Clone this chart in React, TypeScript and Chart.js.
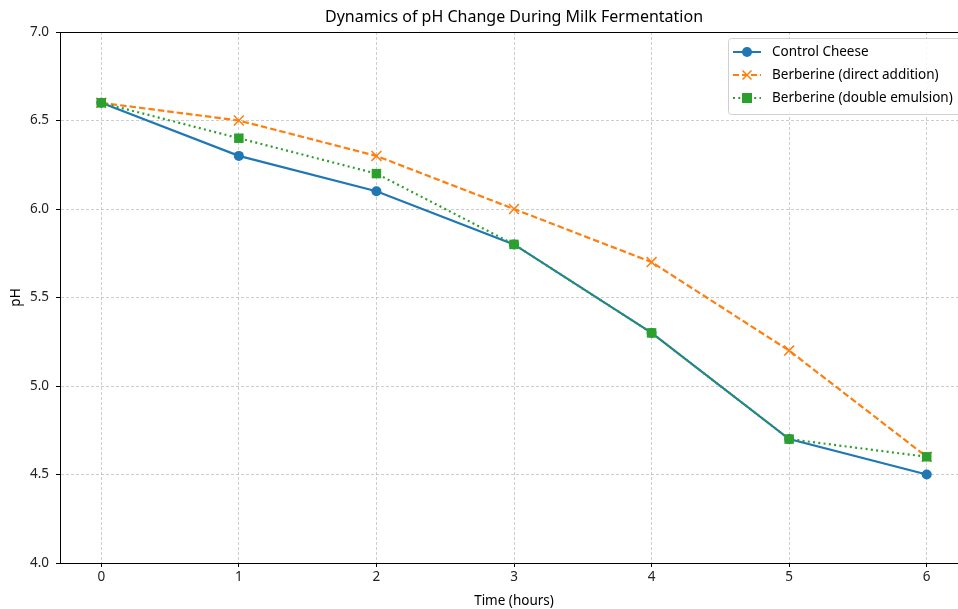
import React, { useEffect, useRef } from "react";
import { Chart, registerables } from "chart.js";

Chart.register(...registerables);

const times = [0, 1, 2, 3, 4, 5, 6];
const controlPH = [6.6, 6.3, 6.1, 5.8, 5.3, 4.7, 4.5];
const directPH = [6.6, 6.5, 6.3, 6.0, 5.7, 5.2, 4.6];
const emulsionPH = [6.6, 6.4, 6.2, 5.8, 5.3, 4.7, 4.6];
const yTicks = [4.0, 4.5, 5.0, 5.5, 6.0, 6.5, 7.0];
const seriesNames = ["Control Cheese", "Berberine (direct addition)", "Berberine (double emulsion)"];
const titleText = "Dynamics of pH Change During Milk Fermentation";

const FONT = "'Noto Sans', 'DejaVu Sans', sans-serif";
const LBL = 13.5;
const BLUE = "#1f77b4";
const ORANGE = "#ff7f0e";
const GREEN = "#2ca02c";

export default function App() {
  const ref = useRef<HTMLCanvasElement | null>(null);

  useEffect(() => {
    document.body.style.margin = "0";
    const canvas = ref.current!;
    const mk = (vals: number[]) => times.map((t, i) => ({ x: t, y: vals[i] }));

    const overlay = {
      id: "overlay",
      afterDraw(chart: any) {
        const { ctx, chartArea } = chart;
        ctx.save();
        ctx.strokeStyle = "#000";
        ctx.lineWidth = 1;
        ctx.beginPath();
        ctx.moveTo(chartArea.left, chartArea.top + 0.5);
        ctx.lineTo(chartArea.right, chartArea.top + 0.5);
        ctx.stroke();
        ctx.fillStyle = "#000";
        ctx.font = `16px ${FONT}`;
        ctx.textAlign = "center";
        ctx.textBaseline = "middle";
        ctx.fillText(titleText, 514, 17);
        const bx = 728, by = 38, bw = 260, bh = 76;
        ctx.beginPath();
        (ctx as any).roundRect(bx + 0.5, by + 0.5, bw, bh, 3);
        ctx.fillStyle = "rgba(255,255,255,0.85)";
        ctx.fill();
        ctx.strokeStyle = "#d0d0d0";
        ctx.lineWidth = 1;
        ctx.stroke();
        const rows = [52, 75, 98];
        const colors = [BLUE, ORANGE, GREEN];
        const dashes = [[], [6, 3], [2, 3.3]];
        rows.forEach((ry, i) => {
          ctx.strokeStyle = colors[i];
          ctx.lineWidth = 2;
          ctx.setLineDash(dashes[i]);
          ctx.beginPath();
          ctx.moveTo(733, ry);
          ctx.lineTo(761, ry);
          ctx.stroke();
          ctx.setLineDash([]);
          const mx = 747;
          if (i === 0) {
            ctx.fillStyle = BLUE;
            ctx.beginPath();
            ctx.arc(mx, ry, 5, 0, Math.PI * 2);
            ctx.fill();
          } else if (i === 1) {
            ctx.strokeStyle = ORANGE;
            ctx.lineWidth = 1.5;
            ctx.beginPath();
            ctx.moveTo(mx - 4.5, ry - 4.5);
            ctx.lineTo(mx + 4.5, ry + 4.5);
            ctx.moveTo(mx + 4.5, ry - 4.5);
            ctx.lineTo(mx - 4.5, ry + 4.5);
            ctx.stroke();
          } else {
            ctx.fillStyle = GREEN;
            ctx.fillRect(mx - 5, ry - 5, 10, 10);
          }
          ctx.fillStyle = "#000";
          ctx.font = `${LBL}px ${FONT}`;
          ctx.textAlign = "left";
          ctx.textBaseline = "middle";
          ctx.fillText(seriesNames[i], 772, ry);
        });
        ctx.restore();
      },
    };

    const gridOpts = {
      color: "rgba(176,176,176,0.8)",
      lineWidth: 0.8,
      drawTicks: true,
      tickLength: 4,
      tickColor: "#000",
      tickBorderDash: [],
      tickWidth: 1,
    };

    const chart = new Chart(canvas, {
      type: "line",
      data: {
        datasets: [
          {
            label: seriesNames[0],
            data: mk(controlPH),
            borderColor: BLUE,
            backgroundColor: BLUE,
            borderWidth: 2.2,
            pointStyle: "circle",
            pointRadius: 5,
            pointBorderWidth: 0,
            order: 2,
          },
          {
            label: seriesNames[1],
            data: mk(directPH),
            borderColor: ORANGE,
            backgroundColor: ORANGE,
            borderWidth: 2.2,
            borderDash: [6.5, 3],
            pointStyle: "crossRot",
            pointRadius: 7,
            pointBorderWidth: 1.5,
            order: 1,
          },
          {
            label: seriesNames[2],
            data: mk(emulsionPH),
            borderColor: GREEN,
            backgroundColor: GREEN,
            borderWidth: 2.2,
            borderDash: [2, 3.3],
            pointStyle: "rect",
            pointRadius: 6.7,
            pointBorderWidth: 0,
            order: 0,
          },
        ],
      },
      options: {
        responsive: false,
        animation: false,
        devicePixelRatio: 1,
        layout: { padding: { top: 32, right: 32, left: 0, bottom: 0 } },
        plugins: { legend: { display: false }, title: { display: false }, tooltip: { enabled: false } },
        elements: { line: { tension: 0 } },
        scales: {
          x: {
            type: "linear",
            min: -0.3,
            max: 6.3,
            afterBuildTicks: (s: any) => {
              s.ticks = times.map((v) => ({ value: v }));
            },
            afterFit: (s: any) => {
              s.height = 46;
              s.paddingRight = 0;
              s.paddingLeft = 0;
            },
            ticks: {
              color: "#222",
              font: { family: FONT, size: LBL },
              padding: 2,
              maxRotation: 0,
              callback: (v: any) => String(v),
            },
            grid: gridOpts,
            border: { display: true, color: "#000", width: 1, dash: [3, 2] },
            title: {
              display: true,
              text: "Time (hours)",
              color: "#000",
              font: { family: FONT, size: LBL },
              padding: { top: 1, bottom: 0 },
            },
          },
          y: {
            min: 4.0,
            max: 7.0,
            afterBuildTicks: (s: any) => {
              s.ticks = yTicks.map((v) => ({ value: v }));
            },
            afterFit: (s: any) => {
              s.width = 60;
            },
            ticks: {
              color: "#222",
              font: { family: FONT, size: LBL },
              padding: 7,
              callback: (v: any) => Number(v).toFixed(1),
            },
            grid: gridOpts,
            border: { display: true, color: "#000", width: 1, dash: [3, 2] },
            title: {
              display: true,
              text: "pH",
              color: "#000",
              font: { family: FONT, size: LBL },
              padding: { top: 8, bottom: 0 },
            },
          },
        },
      },
      plugins: [overlay],
    });
    return () => chart.destroy();
  }, []);

  return (
    <div style={{ position: "absolute", left: 0, top: 0, width: 958, height: 609, overflow: "hidden", background: "#fff" }}>
      <canvas ref={ref} width={1000} height={609} style={{ display: "block" }} />
    </div>
  );
}
